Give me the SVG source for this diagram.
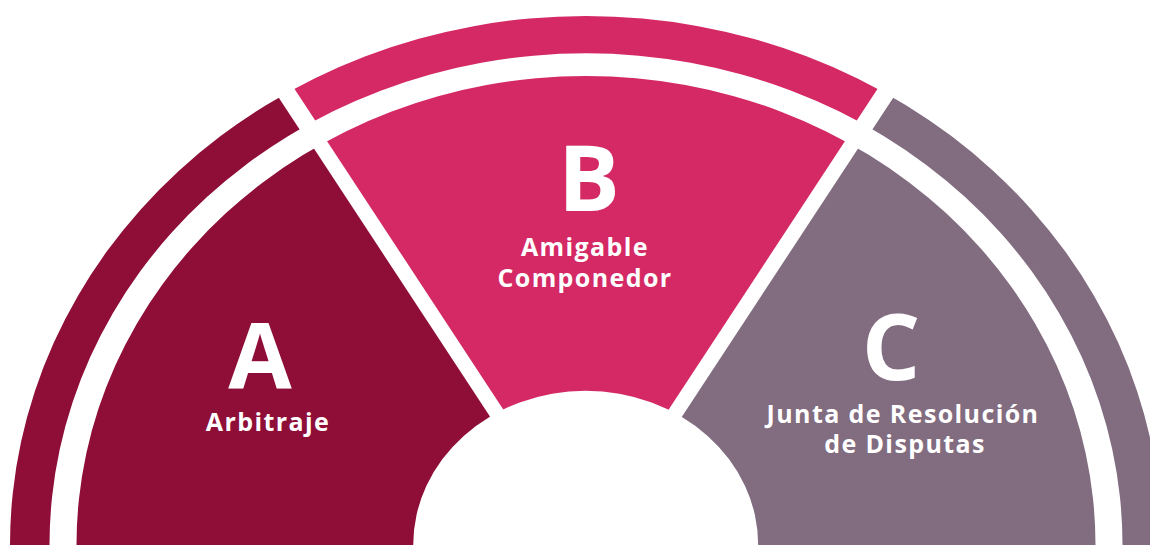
<svg xmlns="http://www.w3.org/2000/svg" width="1150" height="545" viewBox="0 0 1150 545">
  <style>
    .a { fill: #8E0E38; }
    .b { fill: #D42964; }
    .c { fill: #826C80; }
    .big { font-family: "Open Sans", "Noto Sans", "Liberation Sans", sans-serif; font-weight: 700; font-size: 92px; fill: #FFFFFF; text-anchor: middle; }
    .lbl { font-family: "Open Sans", "Noto Sans", "Liberation Sans", sans-serif; font-weight: 700; font-size: 25px; fill: #FFFFFF; text-anchor: middle; letter-spacing: 1.4px; }
  </style>
  <defs>
    <clipPath id="ringA"><polygon points="-50,-50 181.7,-50 674.4,700 -50,700"/></clipPath>
    <clipPath id="segA"><polygon points="-50,-50 183.5,-50 676.2,700 -50,700"/></clipPath>
    <clipPath id="ringB"><polygon points="586,532.6 203.2,-50 968.8,-50"/></clipPath>
    <clipPath id="segB"><polygon points="586,535.3 201.4,-50 970.6,-50"/></clipPath>
    <clipPath id="ringC"><polygon points="990.3,-50 1250,-50 1250,700 497.6,700"/></clipPath>
    <clipPath id="segC"><polygon points="988.5,-50 1250,-50 1250,700 495.8,700"/></clipPath>
    <path id="ring" fill-rule="evenodd" d="M10,545 A576,529 0 0 1 1162,545 A576,529 0 0 1 10,545 Z M49.5,545 A536.5,491.7 0 0 1 1122.5,545 A536.5,491.7 0 0 1 49.5,545 Z"/>
    <path id="seg" fill-rule="evenodd" d="M76.5,545 A509.5,469 0 0 1 1095.5,545 A509.5,469 0 0 1 76.5,545 Z M413.2,545 A172.5,154.3 0 0 1 758.2,545 A172.5,154.3 0 0 1 413.2,545 Z"/>
  </defs>
  <g id="node-a">
    <use href="#ring" class="a" clip-path="url(#ringA)"/>
    <use href="#seg" class="a" clip-path="url(#segA)"/>
    <text class="big" x="260" y="389">A</text>
    <text class="lbl" x="268" y="431">Arbitraje</text>
  </g>
  <g id="node-b">
    <use href="#ring" class="b" clip-path="url(#ringB)"/>
    <use href="#seg" class="b" clip-path="url(#segB)"/>
    <text class="big" x="589" y="211">B</text>
    <text class="lbl" x="585" y="256">Amigable</text>
    <text class="lbl" x="585" y="287">Componedor</text>
  </g>
  <g id="node-c">
    <use href="#ring" class="c" clip-path="url(#ringC)"/>
    <use href="#seg" class="c" clip-path="url(#segC)"/>
    <text class="big" x="891" y="380">C</text>
    <text class="lbl" x="903" y="423">Junta de Resolución</text>
    <text class="lbl" x="905" y="453">de Disputas</text>
  </g>
  <g id="connectors"></g>
</svg>
